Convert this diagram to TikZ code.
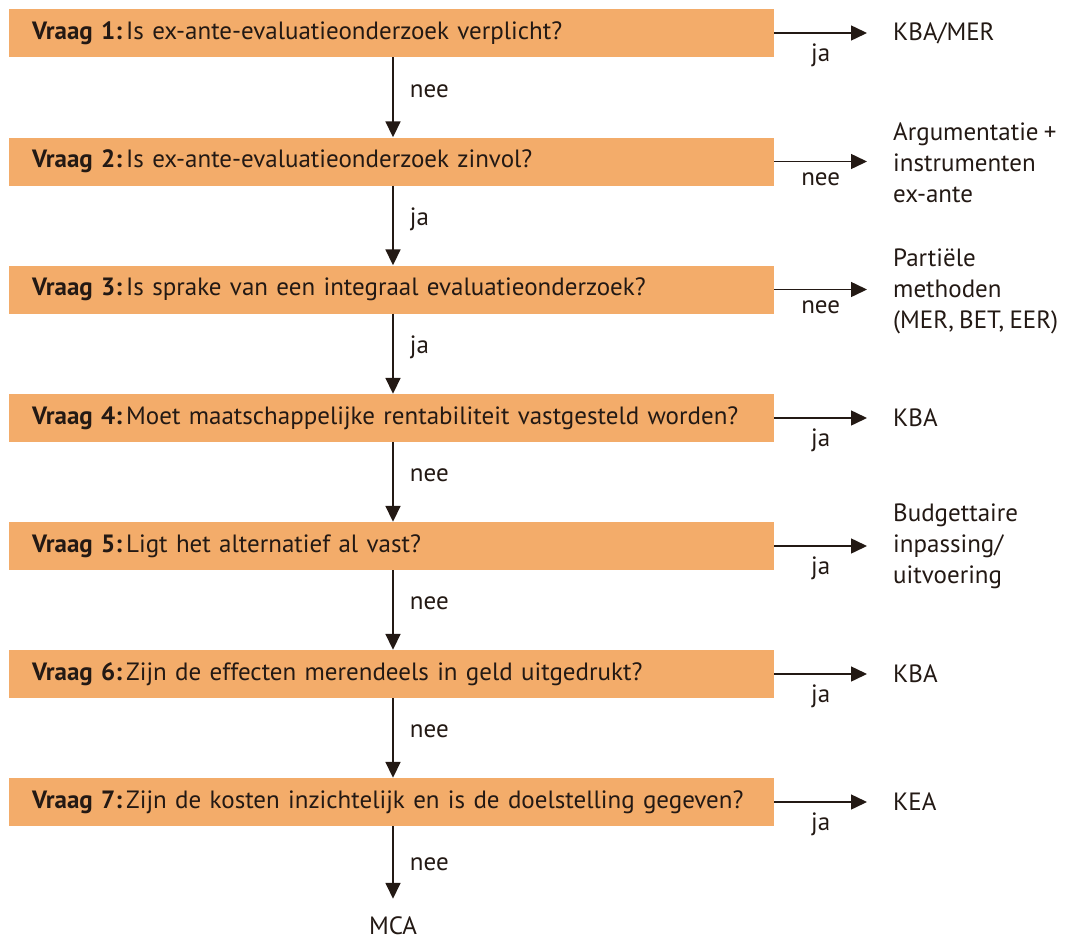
\documentclass[tikz,border=0pt]{standalone}
\usepackage{fontspec}
\setmainfont[WordSpace=0.8]{PT Sans}
\usetikzlibrary{arrows.meta}
\definecolor{boxor}{RGB}{243,172,106}
\definecolor{ink}{RGB}{35,25,20}
\begin{document}
\begin{tikzpicture}[x=1pt,y=-1pt,
  qbox/.style={fill=boxor, draw=none, minimum width=765pt, minimum height=48pt,
    text width=719pt, inner xsep=23pt, inner ysep=0pt, align=left, anchor=west,
    font=\fontsize{25}{28}\selectfont, text=ink},
  arr/.style={line width=1.8pt, draw=ink, -{Triangle[length=16pt,width=15pt]}},
  harr/.style={arr, line width=1.5pt},
  lbl/.style={font=\fontsize{25}{31}\selectfont, text=ink, inner sep=0pt},
  res/.style={lbl, anchor=west, align=left}]
\useasboundingbox (0,0) rectangle (1079,942);
\coordinate (vx) at (393,0);
\coordinate (ax) at (867,0);
\node[qbox] (q1) at (9,33)    {\textbf{Vraag 1:}\,Is ex-ante-evaluatieonderzoek verplicht?};
\node[qbox] (q2) at (9,161.5) {\textbf{Vraag 2:}\,Is ex-ante-evaluatieonderzoek zinvol?};
\node[qbox] (q3) at (9,289.5) {\textbf{Vraag 3:}\,Is sprake van een integraal evaluatieonderzoek?};
\node[qbox] (q4) at (9,418)   {\textbf{Vraag 4:}\,Moet maatschappelijke rentabiliteit vastgesteld worden?};
\node[qbox] (q5) at (9,546)   {\textbf{Vraag 5:}\,Ligt het alternatief al vast?};
\node[qbox] (q6) at (9,674)   {\textbf{Vraag 6:}\,Zijn de effecten merendeels in geld uitgedrukt?};
\node[qbox] (q7) at (9,802)   {\textbf{Vraag 7:}\,Zijn de kosten inzichtelijk en is de doelstelling gegeven?};
% results
\node[res] (r1) at (893,33)    {KBA/MER};
\node[res] (r2) at (893,163)   {Argumentatie +\\instrumenten\\ex-ante};
\node[res] (r3) at (893,291)   {Partiële\\methoden\\(MER, BET, EER)};
\node[res] (r4) at (893,418)   {KBA};
\node[res] (r5) at (893,546)   {Budgettaire\\inpassing/\\uitvoering};
\node[res] (r6) at (893,674)   {KBA};
\node[res] (r7) at (893,802)   {KEA};
\node[lbl] (mca) at (393,926) {MCA};
% vertical arrows
\draw[arr] (q1.south -| vx) -- node[lbl, pos=0.42, anchor=west, xshift=16pt] {nee} (q2.north -| vx);
\draw[arr] (q2.south -| vx) -- node[lbl, pos=0.42, anchor=west, xshift=16pt] {ja} (q3.north -| vx);
\draw[arr] (q3.south -| vx) -- node[lbl, pos=0.42, anchor=west, xshift=16pt] {ja} (q4.north -| vx);
\draw[arr] (q4.south -| vx) -- node[lbl, pos=0.42, anchor=west, xshift=16pt] {nee} (q5.north -| vx);
\draw[arr] (q5.south -| vx) -- node[lbl, pos=0.42, anchor=west, xshift=16pt] {nee} (q6.north -| vx);
\draw[arr] (q6.south -| vx) -- node[lbl, pos=0.42, anchor=west, xshift=16pt] {nee} (q7.north -| vx);
\draw[arr, shorten >=18pt] (q7.south -| vx) -- node[lbl, pos=0.42, anchor=west, xshift=16pt] {nee} (mca.north);
% horizontal arrows
\draw[harr] (q1.east) -- node[lbl, below=10pt] {ja} (q1.east -| ax);
\draw[harr] (q2.east) -- node[lbl, below=10pt] {nee} (q2.east -| ax);
\draw[harr] (q3.east) -- node[lbl, below=10pt] {nee} (q3.east -| ax);
\draw[harr] (q4.east) -- node[lbl, below=10pt] {ja} (q4.east -| ax);
\draw[harr] (q5.east) -- node[lbl, below=10pt] {ja} (q5.east -| ax);
\draw[harr] (q6.east) -- node[lbl, below=10pt] {ja} (q6.east -| ax);
\draw[harr] (q7.east) -- node[lbl, below=10pt] {ja} (q7.east -| ax);
\end{tikzpicture}
\end{document}
